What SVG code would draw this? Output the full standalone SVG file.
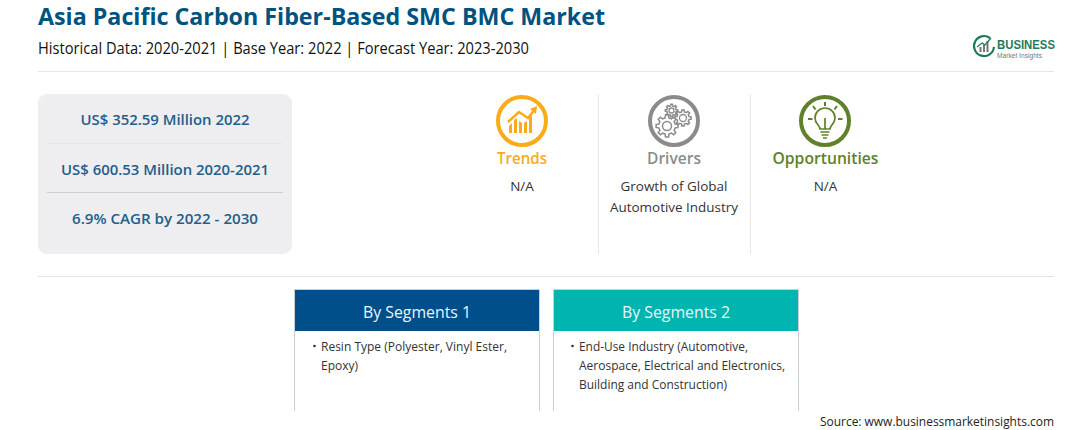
<svg xmlns="http://www.w3.org/2000/svg" width="1092" height="430" viewBox="0 0 1092 430">
<style>
text{font-family:"Open Sans","Noto Sans","Liberation Sans",sans-serif}
.title{font-size:22.5px;font-weight:700;fill:#00527f}
.sub{font-size:15.5px;fill:#111}
.kpi{font-size:14.5px;font-weight:600;fill:#1f5f8b;text-anchor:middle}
.body{font-size:13.5px;fill:#333;text-anchor:middle}
.seg{font-size:16px;fill:#e8f6fa;text-anchor:middle}
.li{font-size:12.5px;fill:#333}
.head{font-size:16.5px;font-weight:600;text-anchor:middle}
.rule{stroke:#e6e6e6;stroke-width:1;fill:none}
.box{fill:#fff;stroke:#c5d0da;stroke-width:1}
.gear{fill:#fff;stroke:#8b8b8b;stroke-width:1.500;vector-effect:non-scaling-stroke}
.logo{font-family:"Liberation Sans",Arial,sans-serif}
</style>
<defs>
<path id="gear" class="gear" d="M-1.71-7.41L-1.39-9.9L1.39-9.9L1.71-7.41L4.03-6.45L6.02-7.99L7.99-6.02L6.45-4.03L7.41-1.71L9.9-1.39L9.9 1.39L7.41 1.71L6.45 4.03L7.99 6.02L6.02 7.99L4.03 6.45L1.71 7.41L1.39 9.9L-1.39 9.9L-1.71 7.41L-4.03 6.45L-6.02 7.99L-7.99 6.02L-6.45 4.03L-7.41 1.71L-9.9 1.39L-9.9-1.39L-7.41-1.71L-6.45-4.03L-7.99-6.02L-6.02-7.99L-4.03-6.45Z"/>
</defs>
<rect width="1092" height="430" fill="#fff"/>
<g id="header">
<text class="title" x="38" y="25" textLength="567" lengthAdjust="spacingAndGlyphs">Asia Pacific Carbon Fiber-Based SMC BMC Market</text>
<text class="sub" x="38" y="54" textLength="491" lengthAdjust="spacingAndGlyphs">Historical Data: 2020-2021 | Base Year: 2022 | Forecast Year: 2023-2030</text>
<line class="rule" x1="38" y1="71.500" x2="1054" y2="71.500"/>
</g>
<g id="logo">
<path d="M990 38a10 10 0 1 0 4 9" fill="none" stroke="#1f7a5c" stroke-width="2.200"/>
<path d="M979.500 52v-5h2v5zM983 52v-8h2v8zM986.500 52v-11h2v11z" fill="#777"/>
<path d="M977 47l5-4 3 2 6-7" fill="none" stroke="#1f7a5c" stroke-width="1.300"/>
<text class="logo" x="997" y="49" font-size="12.500" font-weight="700" fill="#1f7a5c" textLength="58" lengthAdjust="spacingAndGlyphs">BUSINESS</text>
<text class="logo" x="997" y="57.500" font-size="6.500" fill="#777" textLength="45" lengthAdjust="spacingAndGlyphs">Market Insights</text>
</g>
<g id="kpi-panel">
<rect x="38" y="94" width="254" height="160" rx="9" fill="#eeedef"/>
<line x1="47" y1="143.500" x2="283" y2="143.500" stroke="#e6e5e7"/>
<line x1="47" y1="192.500" x2="283" y2="192.500" stroke="#cfcfd1"/>
<text class="kpi" x="165" y="125" textLength="169" lengthAdjust="spacingAndGlyphs">US$ 352.59 Million 2022</text>
<text class="kpi" x="165" y="175" textLength="208" lengthAdjust="spacingAndGlyphs">US$ 600.53 Million 2020-2021</text>
<text class="kpi" x="165" y="224" textLength="186" lengthAdjust="spacingAndGlyphs">6.9% CAGR by 2022 - 2030</text>
</g>
<g id="trends">
<circle cx="522" cy="121" r="24" fill="none" stroke="#fbab18" stroke-width="4"/>
<path d="M509 133v-7l3-3v10zM514 133v-13l3-2v15zM519 133v-12l3 2v10zM524 133v-10l3-2v12zM529 133v-15l3-3v18z" fill="#fbab18"/>
<path d="M508 122l11-10 9 6 8-10" fill="none" stroke="#fbab18" stroke-width="2.500"/>
<path d="M530 109l7-3-1 8z" fill="#fbab18"/>
<text class="head" x="522" y="164" fill="#fbab18" textLength="50" lengthAdjust="spacingAndGlyphs">Trends</text>
<text class="body" x="522" y="191">N/A</text>
</g>
<line class="rule" x1="598.500" y1="94" x2="598.500" y2="254" stroke-width="1.500"/>
<g id="drivers">
<circle cx="674" cy="121" r="24" fill="none" stroke="#8b8b8b" stroke-width="4"/>
<use href="#gear" transform="translate(671.500 110.500) scale(.62)"/>
<circle cx="671.500" cy="110.500" r="2.500" fill="none" stroke="#8b8b8b" stroke-width="1.300"/>
<use href="#gear" transform="translate(683 118) scale(.82)"/>
<circle cx="683" cy="118" r="3.500" fill="none" stroke="#8b8b8b" stroke-width="1.300"/>
<use href="#gear" transform="translate(667 126) scale(1.100)"/>
<circle cx="667" cy="126" r="4.500" fill="none" stroke="#8b8b8b" stroke-width="1.500"/>
<text class="head" x="674" y="164" fill="#8b8b8b" textLength="54" lengthAdjust="spacingAndGlyphs">Drivers</text>
<text class="body" x="674" y="191" textLength="107" lengthAdjust="spacingAndGlyphs">Growth of Global</text>
<text class="body" x="674" y="212" textLength="128" lengthAdjust="spacingAndGlyphs">Automotive Industry</text>
</g>
<line class="rule" x1="750.500" y1="94" x2="750.500" y2="254" stroke-width="1.500"/>
<g id="opportunities">
<circle cx="825" cy="121" r="24" fill="none" stroke="#5f8129" stroke-width="4"/>
<path d="M820 129c0-4-5-5-5-11a10 10 0 0 1 20 0c0 6-5 7-5 11zM825 118v11M820.500 132h9M821.500 135h7M823 138h4" fill="none" stroke="#5f8129" stroke-width="1.700"/>
<path d="M825 102v4M813 106l2.500 3.500M837 106l-2.500 3.500M808 119h4.500M838 119h4.500" fill="none" stroke="#5f8129" stroke-width="2"/>
<text class="head" x="825.500" y="164" fill="#5f8129" textLength="106" lengthAdjust="spacingAndGlyphs">Opportunities</text>
<text class="body" x="825.500" y="191">N/A</text>
</g>
<line class="rule" x1="38" y1="276.500" x2="1054" y2="276.500"/>
<g id="segment-1">
<path class="box" d="M294.500 411V289.500H539.500V411"/>
<rect x="295" y="290" width="244" height="41" fill="#004f8a"/>
<text class="seg" x="417" y="318" textLength="108" lengthAdjust="spacingAndGlyphs">By Segments 1</text>
<circle cx="314.500" cy="346" r="1.300" fill="#333"/>
<text class="li" x="321" y="351" textLength="186" lengthAdjust="spacingAndGlyphs">Resin Type (Polyester, Vinyl Ester,</text>
<text class="li" x="321" y="370" textLength="37" lengthAdjust="spacingAndGlyphs">Epoxy)</text>
</g>
<g id="segment-2">
<path class="box" d="M553.500 411V289.500H798.500V411"/>
<rect x="554" y="290" width="244" height="41" fill="#00b4b0"/>
<text class="seg" x="676" y="318" textLength="108" lengthAdjust="spacingAndGlyphs">By Segments 2</text>
<circle cx="572.500" cy="346" r="1.300" fill="#333"/>
<text class="li" x="579" y="351" textLength="169" lengthAdjust="spacingAndGlyphs">End-Use Industry (Automotive,</text>
<text class="li" x="579" y="370" textLength="206" lengthAdjust="spacingAndGlyphs">Aerospace, Electrical and Electronics,</text>
<text class="li" x="579" y="389" textLength="148" lengthAdjust="spacingAndGlyphs">Building and Construction)</text>
</g>
<text id="source" x="1054" y="426" font-size="12" fill="#222" text-anchor="end" textLength="234" lengthAdjust="spacingAndGlyphs">Source: www.businessmarketinsights.com</text>
</svg>
